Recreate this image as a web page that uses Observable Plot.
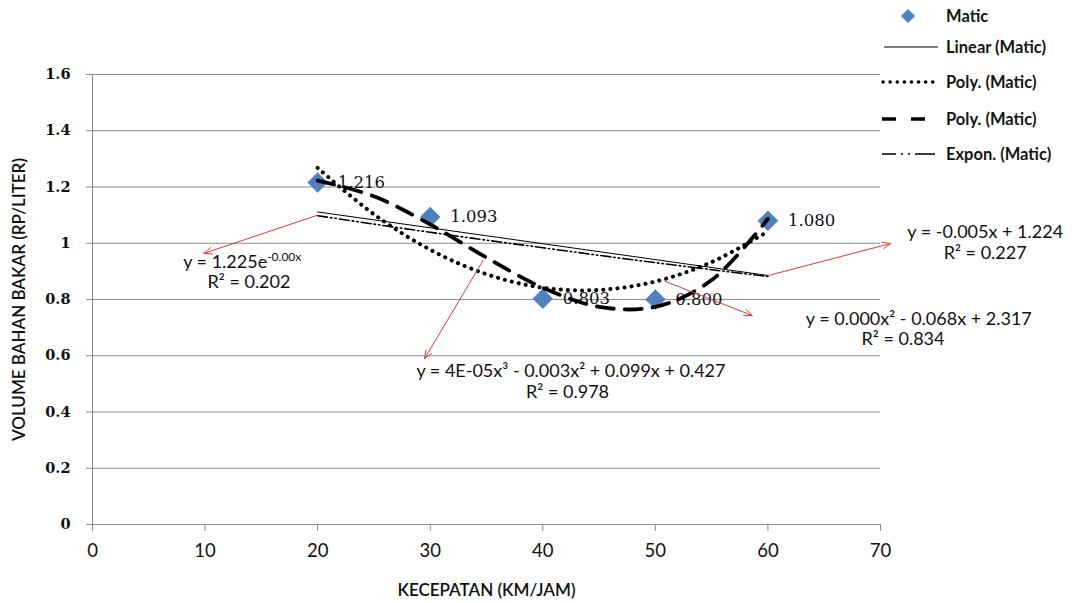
<!DOCTYPE html>
<html>
<head>
<meta charset="utf-8">
<script src="https://cdn.jsdelivr.net/npm/d3@7"></script>
<script src="https://cdn.jsdelivr.net/npm/@observablehq/plot@0.6"></script>
<style>
  html, body { margin: 0; padding: 0; background: #fff; }
  #wrap { position: relative; width: 1072px; height: 603px; }
  #legend { position: absolute; left: 880px; top: 0; font-family: Lato, "Open Sans", sans-serif; font-size: 16.5px; font-weight: 700; color: #151515; }
  .item { position: absolute; left: 0; height: 20px; display: flex; align-items: center; white-space: nowrap; }
  .item svg { display: block; }
  .item span { position: absolute; left: 66px; top: 0; line-height: 20px; }
</style>
</head>
<body>
<div id="wrap">
  <div id="chart"></div>
  <div id="legend"></div>
</div>
<script>
// ---- data ----
const speed = [20, 30, 40, 50, 60];
const volume = [1.216, 1.093, 0.803, 0.800, 1.080];
const valueLabels = ["1.216", "1.093", "0.803", "0.800", "1.080"];

// trend lines at 5 km/jam steps
const trendX = [20, 25, 30, 35, 40, 45, 50, 55, 60];
const polyDotted = [1.268, 1.103, 0.977, 0.890, 0.842, 0.834, 0.864, 0.933, 1.042];
const polyDashed = [1.223, 1.167, 1.067, 0.949, 0.842, 0.774, 0.774, 0.869, 1.087];
const exponTrend = [1.098, 1.068, 1.039, 1.011, 0.984, 0.957, 0.931, 0.906, 0.882];

const xTicks = [0, 10, 20, 30, 40, 50, 60, 70];
const yTicks = [0, 0.2, 0.4, 0.6, 0.8, 1, 1.2, 1.4, 1.6];

const xTitle = "KECEPATAN (KM/JAM)";
const yTitle = "VOLUME BAHAN BAKAR (RP/LITER)";

// equation labels (data units)
const eqText = ["y = 1.225e-0.00x", "R² = 0.202",
                "y = 4E-05x³ - 0.003x² + 0.099x + 0.427", "R² = 0.978",
                "y = 0.000x² - 0.068x + 2.317", "R² = 0.834",
                "y = -0.005x + 1.224", "R² = 0.227"];
const eqX = [13.3, 13.9, 42.5, 42.2, 73.4, 72.0, 79.3, 79.3];
const eqY = [0.932, 0.860, 0.544, 0.469, 0.729, 0.658, 1.038, 0.964];

// red leader arrows (data units)
const arrowX1 = [20, 34.7, 50.9, 60];
const arrowY1 = [1.10, 0.939, 0.864, 0.885];
const arrowX2 = [9.9, 29.5, 58.6, 70.9];
const arrowY2 = [0.964, 0.59, 0.743, 0.999];

// legend entries
const legendLabels = ["Matic", "Linear (Matic)", "Poly. (Matic)", "Poly. (Matic)", "Expon. (Matic)"];

// ---- tables ----
const points = speed.map((x, i) => ({x, y: volume[i], label: valueLabels[i]}));
const dotted = trendX.map((x, i) => ({x, y: polyDotted[i]}));
const dashed = trendX.map((x, i) => ({x, y: polyDashed[i]}));
const expon = trendX.map((x, i) => ({x, y: exponTrend[i]}));
const eqs = eqText.map((t, i) => ({t, x: eqX[i], y: eqY[i]}));
const arrows = arrowX1.map((x1, i) => ({x1, y1: arrowY1[i], x2: arrowX2[i], y2: arrowY2[i]}));
const xTickRows = xTicks.map(x => ({x, label: String(x)}));

const gray = "#8c8c8c";
const blue = "#4f81bd";

const chart = Plot.plot({
  width: 1072,
  height: 603,
  marginLeft: 92,
  marginRight: 192,
  marginTop: 74,
  marginBottom: 79,
  x: {domain: [0, 70]},
  y: {domain: [0, 1.6]},
  style: {fontFamily: "Lato, 'Open Sans', sans-serif", fontSize: "16px", color: "#111", background: "white", overflow: "visible"},
  marks: [
    Plot.gridY(yTicks, {stroke: gray, strokeOpacity: 1, strokeWidth: 1}),
    Plot.ruleX([0], {stroke: gray, strokeWidth: 1}),
    Plot.axisY(yTicks, {tickSize: 6, tickPadding: 16, stroke: gray, fill: "#111", label: null, tickFormat: d => String(d),
      fontFamily: "'DejaVu Serif', serif", fontSize: 14.5, fontWeight: 600}),
    Plot.axisX(xTicks, {tickSize: 7, stroke: gray, text: null, label: null}),
    Plot.text(xTickRows, {x: "x", text: "label", frameAnchor: "bottom", dy: 27, lineAnchor: "middle",
      fontFamily: "Lato, sans-serif", fontSize: 18.5, fill: "#111"}),
    Plot.text([yTitle], {frameAnchor: "left", dx: -73, rotate: -90, textAnchor: "middle", text: d => d, fontSize: 17, fontWeight: 600, fill: "#111"}),
    Plot.text([xTitle], {frameAnchor: "bottom", dy: 66, lineAnchor: "middle", text: d => d, fontSize: 17, fontWeight: 600, fill: "#111"}),
    Plot.dot(points, {x: "x", y: "y", symbol: "diamond2", r: 9, fill: blue, stroke: blue, strokeWidth: 0.5}),
    Plot.text(points, {x: "x", y: "y", text: "label", dx: 20, textAnchor: "start", fontFamily: "'DejaVu Serif', serif", fontSize: 16.5, fill: "#111"}),
    Plot.linearRegressionY(points, {x: "x", y: "y", ci: 0, stroke: "#000", strokeWidth: 1}),
    Plot.line(expon, {x: "x", y: "y", curve: "catmull-rom", stroke: "#000", strokeWidth: 1.6, strokeDasharray: "10 3 1.5 3 1.5 3"}),
    Plot.line(dotted, {x: "x", y: "y", curve: "catmull-rom", stroke: "#000", strokeWidth: 4, strokeLinecap: "round", strokeDasharray: "0.1 7"}),
    Plot.line(dashed, {x: "x", y: "y", curve: "catmull-rom", stroke: "#000", strokeWidth: 3.8, strokeDasharray: "17 11"}),
    Plot.arrow(arrows, {x1: "x1", y1: "y1", x2: "x2", y2: "y2", stroke: "#e23a3a", strokeWidth: 1, headLength: 13, headAngle: 45}),
    Plot.text(eqs, {x: "x", y: "y", text: "t", textAnchor: "middle", fontSize: 18, fill: "#111"})
  ]
});

document.getElementById("chart").appendChild(chart);

// y tick labels: serif, as in the reference
chart.querySelectorAll('[aria-label^="y-axis"] text').forEach(t => {
  t.style.fontFamily = "'DejaVu Serif', serif";
  t.style.fontSize = "14.5px";
  t.style.fontWeight = "600";
});

// superscript for the exponential equation
chart.querySelectorAll("text").forEach(t => {
  if (t.textContent === "y = 1.225e-0.00x") {
    t.textContent = "y = 1.225e";
    const ts = document.createElementNS("http://www.w3.org/2000/svg", "tspan");
    ts.setAttribute("dy", "-7");
    ts.setAttribute("font-size", "12");
    ts.textContent = "-0.00x";
    t.appendChild(ts);
  }
});

// legend
const legend = document.getElementById("legend");
const legendY = [6, 37, 72, 109, 144];
const swatches = [
  `<svg width="60" height="20"><path d="M28 3 L35 10 L28 17 L21 10 Z" fill="${blue}"/></svg>`,
  `<svg width="60" height="20"><line x1="4" y1="10" x2="58" y2="10" stroke="#000" stroke-width="1"/></svg>`,
  `<svg width="60" height="20"><line x1="3" y1="10" x2="54" y2="10" stroke="#000" stroke-width="3.5" stroke-linecap="round" stroke-dasharray="0.1 7"/></svg>`,
  `<svg width="60" height="20"><line x1="2" y1="10" x2="54" y2="10" stroke="#000" stroke-width="3.5" stroke-dasharray="14 15"/></svg>`,
  `<svg width="60" height="20"><line x1="2" y1="10" x2="58" y2="10" stroke="#000" stroke-width="1.6" stroke-dasharray="14 5 2 5 2 5 20"/></svg>`
];
legendLabels.forEach((lab, i) => {
  const d = document.createElement("div");
  d.className = "item";
  d.style.top = legendY[i] + "px";
  d.innerHTML = swatches[i] + `<span>${lab}</span>`;
  legend.appendChild(d);
});
</script>
</body>
</html>
